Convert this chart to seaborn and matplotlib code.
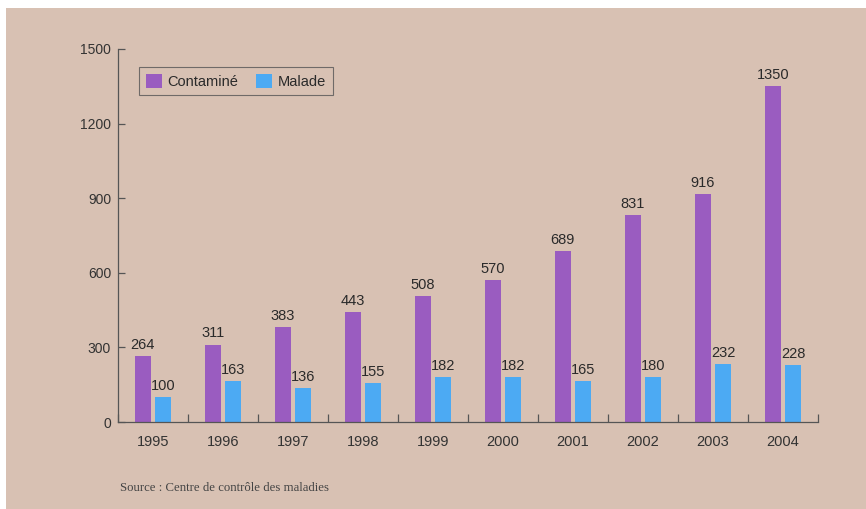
import matplotlib
matplotlib.use("Agg")
import matplotlib.pyplot as plt
from matplotlib.patches import Rectangle
import seaborn as sns
import pandas as pd

years = ["1995", "1996", "1997", "1998", "1999", "2000", "2001", "2002", "2003", "2004"]
contamine = [264, 311, 383, 443, 508, 570, 689, 831, 916, 1350]
malade = [100, 163, 136, 155, 182, 182, 165, 180, 232, 228]
series_names = ["Contaminé", "Malade"]
colors = ["#9a5cc0", "#4caaf3"]
y_ticks = [0, 300, 600, 900, 1200, 1500]
source_text = "Source : Centre de contrôle des maladies"

df = pd.DataFrame({
    "year": years * 2,
    "value": contamine + malade,
    "serie": [series_names[0]] * len(years) + [series_names[1]] * len(years),
})

sns.set_style("white")
plt.rcParams["font.family"] = ["Liberation Sans", "DejaVu Sans"]

W, H = 866, 509
fig = plt.figure(figsize=(W / 100, H / 100), dpi=100, facecolor="white")
bg = "#d8c1b3"
fig.patches.append(Rectangle((6 / W, 0), 1 - 6 / W, 1 - 8 / H, transform=fig.transFigure,
                             facecolor=bg, edgecolor="none", zorder=-10))

ax = fig.add_axes([118 / W, 1 - 422 / H, (818 - 118) / W, (422 - 49) / H])
ax.set_facecolor("none")
ax.set_zorder(5)

sns.barplot(data=df, x="year", y="value", hue="serie", palette=colors,
            width=0.58, gap=0.2, saturation=1, linewidth=0, ax=ax, legend=True)

for container in ax.containers:
    ax.bar_label(container, fmt="%d", padding=3, fontsize=10.5, color="#2a2a2a")

ax.set_xlim(-0.5, len(years) - 0.5)
ax.set_ylim(0, 1500)
ax.set_yticks(y_ticks)
ax.set_yticklabels([str(t) for t in y_ticks], fontsize=10, color="#333333")
ax.set_xlabel("")
ax.set_ylabel("")

ax.set_xticks([i - 0.5 for i in range(len(years) + 1)], minor=False)
ax.set_xticklabels([""] * (len(years) + 1))
ax.set_xticks(range(len(years)), minor=True)
ax.set_xticklabels(years, minor=True, fontsize=10.5, color="#333333")
ax.tick_params(axis="x", which="major", bottom=True, direction="in", length=6, width=0.9,
               color="#555555")
ax.tick_params(axis="x", which="minor", bottom=True, length=0, pad=9)
ax.tick_params(axis="y", left=True, direction="in", length=5, width=0.9, color="#555555", pad=5)

for side in ["top", "right"]:
    ax.spines[side].set_visible(False)
for side in ["left", "bottom"]:
    ax.spines[side].set_color("#555555")
    ax.spines[side].set_linewidth(0.9)

handles, labels = ax.get_legend_handles_labels()
leg = ax.legend(handles, labels, loc="upper left", bbox_to_anchor=(21 / 700, 1 - 18 / 373),
                borderaxespad=0, ncol=2, frameon=True, fancybox=False, edgecolor="#555555",
                facecolor="none", fontsize=10.5, handlelength=1.1, handleheight=1.1,
                columnspacing=1.2, handletextpad=0.4, borderpad=0.45)
leg.get_frame().set_linewidth(0.8)
for t in leg.get_texts():
    t.set_color("#2a2a2a")

fig.text(120 / W, 1 - 488 / H, source_text, fontsize=9.2, color="#444444",
         family=["Liberation Serif", "DejaVu Serif"], va="center", ha="left")

fig.savefig("out.png", dpi=100, facecolor=fig.get_facecolor())
